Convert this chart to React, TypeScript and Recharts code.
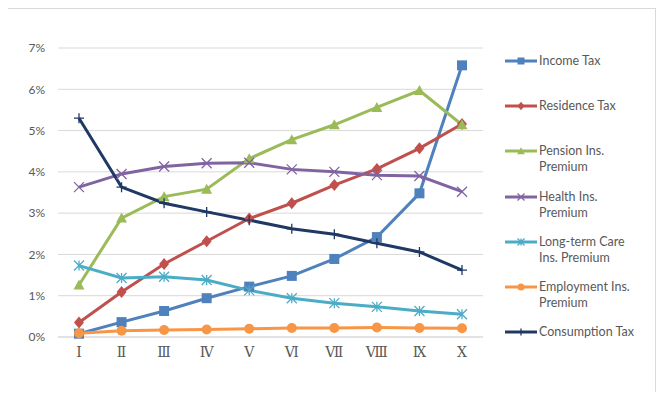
import { LineChart, Line, XAxis, YAxis, CartesianGrid } from "recharts";

const periods = ["Ⅰ", "Ⅱ", "Ⅲ", "Ⅳ", "Ⅴ", "Ⅵ", "Ⅶ", "Ⅷ", "Ⅸ", "Ⅹ"];
const yTicks = [0, 1, 2, 3, 4, 5, 6, 7];

// burden rates in percent, one array per item
const incomeTax = [0.08, 0.36, 0.63, 0.94, 1.22, 1.48, 1.89, 2.42, 3.48, 6.58];
const residenceTax = [0.35, 1.09, 1.77, 2.32, 2.87, 3.24, 3.68, 4.07, 4.57, 5.16];
const pensionIns = [1.26, 2.88, 3.4, 3.58, 4.32, 4.78, 5.14, 5.56, 5.97, 5.14];
const healthIns = [3.63, 3.95, 4.13, 4.21, 4.22, 4.06, 4.0, 3.92, 3.9, 3.52];
const longTermCareIns = [1.73, 1.43, 1.46, 1.38, 1.13, 0.94, 0.82, 0.73, 0.63, 0.55];
const employmentIns = [0.09, 0.15, 0.17, 0.18, 0.2, 0.22, 0.22, 0.23, 0.22, 0.21];
const consumptionTax = [5.3, 3.63, 3.24, 3.03, 2.83, 2.62, 2.49, 2.27, 2.06, 1.62];

type Shape = "square" | "diamond" | "triangle" | "x" | "star" | "circle" | "plus";

const series: { key: string; name: string[]; color: string; shape: Shape; values: number[] }[] = [
  { key: "income", name: ["Income Tax"], color: "#4f81bd", shape: "square", values: incomeTax },
  { key: "residence", name: ["Residence Tax"], color: "#c0504d", shape: "diamond", values: residenceTax },
  { key: "pension", name: ["Pension Ins.", "Premium"], color: "#9bbb59", shape: "triangle", values: pensionIns },
  { key: "health", name: ["Health Ins.", "Premium"], color: "#8064a2", shape: "x", values: healthIns },
  { key: "ltc", name: ["Long-term Care", "Ins. Premium"], color: "#4bacc6", shape: "star", values: longTermCareIns },
  { key: "employment", name: ["Employment Ins.", "Premium"], color: "#f79646", shape: "circle", values: employmentIns },
  { key: "consumption", name: ["Consumption Tax"], color: "#1f3864", shape: "plus", values: consumptionTax },
];

const data = periods.map((p, i) => {
  const row: Record<string, string | number> = { period: p };
  series.forEach((s) => (row[s.key] = s.values[i]));
  return row;
});

const FONT = "Lato, 'Open Sans', sans-serif";
const TEXT = "#595959";

function Marker({ cx, cy, shape, color, r }: { cx: number; cy: number; shape: Shape; color: string; r: number }) {
  switch (shape) {
    case "square":
      return <rect x={cx - r} y={cy - r} width={2 * r} height={2 * r} fill={color} />;
    case "diamond":
      return <path d={`M${cx},${cy - r * 1.2}L${cx + r},${cy}L${cx},${cy + r * 1.2}L${cx - r},${cy}Z`} fill={color} />;
    case "triangle":
      return <path d={`M${cx},${cy - r * 1.1}L${cx + r * 1.1},${cy + r * 0.9}L${cx - r * 1.1},${cy + r * 0.9}Z`} fill={color} />;
    case "circle":
      return <circle cx={cx} cy={cy} r={r} fill={color} />;
    case "x":
      return (
        <path d={`M${cx - r},${cy - r}L${cx + r},${cy + r}M${cx - r},${cy + r}L${cx + r},${cy - r}`} stroke={color} strokeWidth={1.3} />
      );
    case "star":
      return (
        <path
          d={`M${cx - r},${cy - r}L${cx + r},${cy + r}M${cx - r},${cy + r}L${cx + r},${cy - r}M${cx},${cy - r}L${cx},${cy + r}`}
          stroke={color}
          strokeWidth={1.3}
        />
      );
    case "plus":
      return <path d={`M${cx - r},${cy}L${cx + r},${cy}M${cx},${cy - r}L${cx},${cy + r}`} stroke={color} strokeWidth={1.3} />;
  }
}

// legend sits to the right of the plot, two-line labels wrap like the series names
function LegendList() {
  return (
    <div
      style={{
        position: "absolute",
        left: 505,
        top: 53,
        fontFamily: FONT,
        fontSize: 12.5,
        color: TEXT,
        lineHeight: "16px",
      }}
    >
      {series.map((s) => (
        <div key={s.key} style={{ height: 45.2, display: "flex", alignItems: "flex-start" }}>
          <svg width={34} height={16} style={{ flex: "none" }}>
            <line x1={0} y1={8} x2={32} y2={8} stroke={s.color} strokeWidth={3} />
            <Marker cx={16} cy={8} shape={s.shape} color={s.color} r={3.5} />
          </svg>
          <div>
            {s.name.map((n) => (
              <div key={n} style={{ whiteSpace: "nowrap" }}>
                {n}
              </div>
            ))}
          </div>
        </div>
      ))}
    </div>
  );
}

export default function App() {
  return (
    <div style={{ position: "relative", width: 664, height: 400, margin: -8, background: "#fff" }}>
      <LineChart
        width={664}
        height={400}
        data={data}
        margin={{ top: 48, right: 181, bottom: 33, left: 0 }}
        style={{ position: "absolute", left: 0, top: 0 }}
      >
        <CartesianGrid vertical={false} stroke="#d9d9d9" />
        <XAxis
          dataKey="period"
          height={30}
          padding={{ left: 21, right: 21 }}
          axisLine={{ stroke: "#d9d9d9" }}
          tickLine={false}
          tickSize={0}
          tickMargin={10}
          interval={0}
          tick={{ fill: TEXT, fontSize: 14, fontFamily: "'Liberation Serif', 'DejaVu Serif', serif" }}
        />
        <YAxis
          width={58}
          domain={[0, 7]}
          ticks={yTicks}
          tickFormatter={(v: number) => `${v}%`}
          axisLine={false}
          tickLine={false}
          tickSize={0}
          tickMargin={13}
          tick={{ fill: TEXT, fontSize: 12, fontFamily: FONT }}
        />
        {series.map((s) => (
          <Line
            key={s.key}
            dataKey={s.key}
            name={s.name.join(" ")}
            type="linear"
            stroke={s.color}
            strokeWidth={3}
            isAnimationActive={false}
            dot={(p: any) => <Marker key={`${s.key}-${p.index}`} cx={p.cx} cy={p.cy} shape={s.shape} color={s.color} r={5} />}
            activeDot={false}
          />
        ))}
      </LineChart>
      <LegendList />
      <div
        style={{
          position: "absolute",
          left: 3,
          top: 8,
          width: 651,
          height: 384,
          border: "1px solid #d9d9d9",
          pointerEvents: "none",
        }}
      />
    </div>
  );
}
